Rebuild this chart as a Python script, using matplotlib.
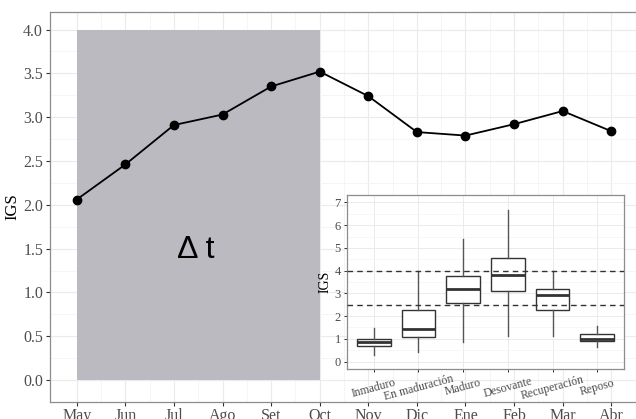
import matplotlib.pyplot as plt
import numpy as np

# datos de la serie mensual
meses = ["May", "Jun", "Jul", "Ago", "Set", "Oct", "Nov", "Dic", "Ene", "Feb", "Mar", "Abr"]
igs = [2.06, 2.46, 2.91, 3.03, 3.35, 3.52, 3.24, 2.83, 2.79, 2.92, 3.07, 2.84]

# estadios (boxplot del recuadro)
estadios = ["Inmaduro", "En maduración", "Maduro", "Desovante", "Recuperación", "Reposo"]
bigote_inf = [0.29, 0.41, 0.85, 1.14, 1.14, 0.62]
q1 = [0.69, 1.07, 2.57, 3.10, 2.27, 0.90]
mediana = [0.88, 1.44, 3.18, 3.79, 2.92, 0.98]
q3 = [1.00, 2.25, 3.76, 4.55, 3.21, 1.19]
bigote_sup = [1.47, 3.99, 5.39, 6.66, 3.99, 1.56]
umbrales = [2.5, 4.0]

serif = "Liberation Serif"
gris_txt = "#4d4d4d"
gris_borde = "#8c8c8c"

fig = plt.figure(figsize=(6.36, 4.19), dpi=100)
ax = fig.add_axes([50 / 636, 1 - 402 / 419, 588 / 636, 390 / 419])

x = np.arange(len(meses))
ax.set_xlim(-0.55, len(meses) - 1 + 0.55)
ax.set_ylim(-0.2, 4.2)

# rejilla
ax.set_xticks(x)
ax.set_xticks(x[:-1] + 0.5, minor=True)
ax.set_yticks(np.arange(0, 4.01, 0.5))
ax.set_yticks(np.arange(-0.25, 4.2, 0.5), minor=True)
ax.grid(which="major", color="#ebebeb", lw=0.8)
ax.grid(which="minor", color="#f4f4f4", lw=0.6)
ax.set_axisbelow(True)

# periodo sombreado
ax.fill_between([x[0], x[5]], 0, 4, color="#bbbac1", lw=0, zorder=1.5)
ax.text((x[0] + x[5]) / 2 - 0.05, 1.49, "Δ t", fontsize=23, family="Liberation Sans",
        ha="center", va="center", zorder=3)

ax.plot(x, igs, color="black", lw=1.3, marker="o", ms=6, zorder=3)

ax.set_xticklabels(meses, family=serif, fontsize=11.5, color=gris_txt)
ax.set_yticklabels([f"{v:.1f}" for v in np.arange(0, 4.01, 0.5)], family=serif,
                   fontsize=11.5, color=gris_txt)
ax.tick_params(which="major", length=3, color="#333333", width=0.8, pad=2)
ax.tick_params(axis="x", pad=1.5)
ax.tick_params(which="minor", length=0)
ax.set_ylabel("IGS", family=serif, fontsize=12, labelpad=2)
for s in ax.spines.values():
    s.set_color(gris_borde)
    s.set_linewidth(0.9)

# recuadro con boxplot
ins = fig.add_axes([347 / 636, 1 - 369 / 419, 277 / 636, 174 / 419])
ins.set_facecolor("white")
stats = []
for i in range(len(estadios)):
    stats.append(dict(whislo=bigote_inf[i], q1=q1[i], med=mediana[i], q3=q3[i],
                      whishi=bigote_sup[i], fliers=[]))
pos = np.arange(1, len(estadios) + 1)
ins.bxp(stats, positions=pos, widths=0.75, showcaps=False, showfliers=False,
        patch_artist=True,
        boxprops=dict(facecolor="white", edgecolor="#333333", lw=1.0),
        whiskerprops=dict(color="#555555", lw=1.0),
        medianprops=dict(color="#333333", lw=2.0), zorder=3)
for u in umbrales:
    ins.axhline(u, color="#333333", lw=1.0, ls=(0, (4, 3)), zorder=4)

ins.set_xlim(0.4, len(estadios) + 0.6)
ins.set_ylim(-0.33, 7.33)
ins.set_yticks(np.arange(0, 8))
ins.set_yticks(np.arange(0.5, 7.5, 1), minor=True)
ins.set_xticks(pos)
ins.grid(which="major", color="#ebebeb", lw=0.7)
ins.grid(which="minor", axis="y", color="#f4f4f4", lw=0.5)
ins.set_axisbelow(True)
ins.set_xticklabels(estadios, family=serif, fontsize=8.5, color=gris_txt,
                    rotation=15, ha="center", va="center", rotation_mode="anchor")
ins.set_yticklabels([str(v) for v in range(8)], family=serif, fontsize=9, color=gris_txt)
ins.tick_params(which="major", length=2.5, color="#333333", width=0.7, pad=2)
ins.tick_params(axis="x", pad=11)
ins.tick_params(which="minor", length=0)
ins.set_ylabel("IGS", family=serif, fontsize=10, labelpad=2)
for s in ins.spines.values():
    s.set_color(gris_borde)
    s.set_linewidth(0.9)

fig.savefig("out.png", dpi=100)
